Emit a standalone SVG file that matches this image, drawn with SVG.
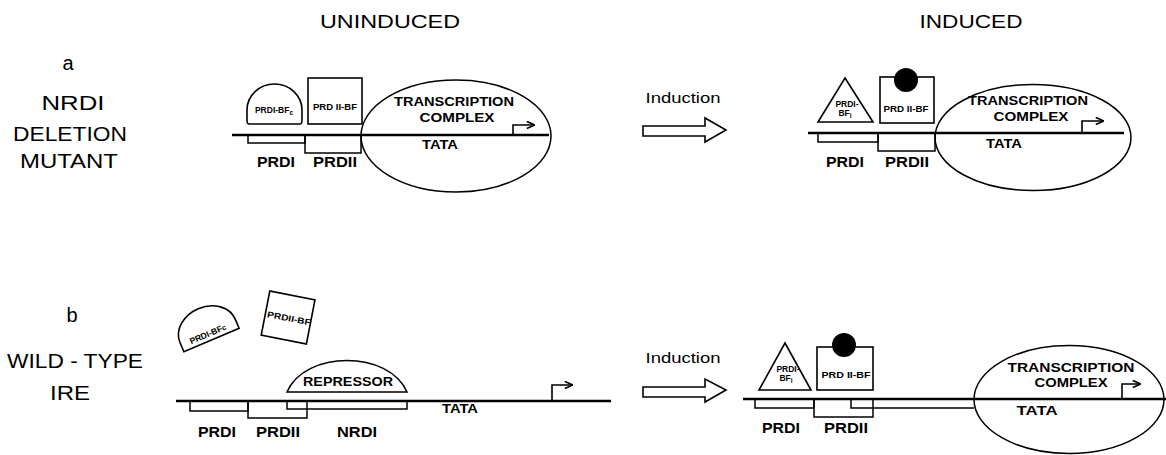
<svg xmlns="http://www.w3.org/2000/svg" width="1166" height="455" viewBox="0 0 1166 455">
<style>
text{font-family:"Liberation Sans",Arial,sans-serif;fill:#000}
.title{font-size:19px;text-anchor:middle}
.side{font-size:20px;text-anchor:middle}
.ind{font-size:15px;text-anchor:middle}
.lbl{font-size:14px;font-weight:bold;text-anchor:middle}
.cx{font-size:13px;font-weight:bold;text-anchor:middle}
.sm{font-size:8.5px;font-weight:bold;text-anchor:middle}
.dna{stroke:#000;stroke-width:2.6;fill:none}
.sh{stroke:#000;stroke-width:1.6;fill:#fff}
.bx{stroke:#000;stroke-width:1.5;fill:none}
.ar{stroke:#000;stroke-width:1.6;fill:none}
</style>
<defs>
<marker id="ah" viewBox="0 0 10 10" refX="9" refY="5" markerWidth="9" markerHeight="9" orient="auto" markerUnits="userSpaceOnUse"><path d="M1,1 L10,5 L1,9" fill="none" stroke="#000" stroke-width="1.8"/></marker>
</defs>

<g id="headings">
<text class="title" x="390" y="28" textLength="140" lengthAdjust="spacingAndGlyphs">UNINDUCED</text>
<text class="title" x="971" y="28" textLength="103" lengthAdjust="spacingAndGlyphs">INDUCED</text>
</g>

<g id="label-a">
<text class="side" x="68" y="70">a</text>
<text class="side" x="73" y="110" textLength="63" lengthAdjust="spacingAndGlyphs">NRDI</text>
<text class="side" x="70" y="141" textLength="114" lengthAdjust="spacingAndGlyphs">DELETION</text>
<text class="side" x="69" y="168" textLength="98" lengthAdjust="spacingAndGlyphs">MUTANT</text>
</g>
<g id="label-b">
<text class="side" x="72" y="322">b</text>
<text class="side" x="75" y="368" textLength="136" lengthAdjust="spacingAndGlyphs">WILD - TYPE</text>
<text class="side" x="70" y="400" textLength="40" lengthAdjust="spacingAndGlyphs">IRE</text>
</g>

<!-- connectors: induction arrows and DNA lines -->
<g id="connectors">
<path class="sh" d="M643,126 L705,126 L705,118 L726,130 L705,142 L705,136 L643,136 Z"/>
<path class="sh" d="M643,387 L705,387 L705,379 L726,390 L705,402 L705,397 L643,397 Z"/>
<line class="dna" x1="232" y1="135" x2="549" y2="135"/>
<line class="dna" x1="808" y1="133" x2="1124" y2="133"/>
<line class="dna" x1="176" y1="401" x2="611" y2="401"/>
<line class="dna" x1="743" y1="399" x2="1166" y2="399"/>
</g>

<g id="induction-a"><text class="ind" x="683" y="103" textLength="75" lengthAdjust="spacingAndGlyphs">Induction</text></g>
<g id="induction-b"><text class="ind" x="683" y="363" textLength="75" lengthAdjust="spacingAndGlyphs">Induction</text></g>

<!-- a: uninduced -->
<g id="a-un-sites">
<rect class="bx" x="248" y="135" width="57" height="8"/>
<rect class="bx" x="305" y="135" width="56" height="18"/>
<text class="lbl" x="276" y="167" textLength="38" lengthAdjust="spacingAndGlyphs">PRDI</text>
<text class="lbl" x="335" y="167" textLength="44" lengthAdjust="spacingAndGlyphs">PRDII</text>
</g>
<g id="a-un-prdi-bfc">
<path class="sh" d="M249,124 Q247,124 247,120 L247,110 A27.5,26 0 0 1 302,110 L302,120 Q302,124 300,124 Z"/>
<text class="sm" x="274" y="113">PRDI-BF<tspan font-size="6.5" dy="2">c</tspan></text>
</g>
<g id="a-un-prdii-bf">
<rect class="sh" x="308" y="78" width="54" height="46"/>
<text class="sm" x="335" y="110" textLength="44" lengthAdjust="spacingAndGlyphs">PRD II-BF</text>
</g>
<g id="a-un-complex">
<ellipse class="bx" cx="456" cy="136" rx="95" ry="56"/>
<text class="cx" x="454" y="106" textLength="120" lengthAdjust="spacingAndGlyphs">TRANSCRIPTION</text>
<text class="cx" x="457" y="122" textLength="75" lengthAdjust="spacingAndGlyphs">COMPLEX</text>
<text class="cx" x="440" y="149" textLength="36" lengthAdjust="spacingAndGlyphs">TATA</text>
<path class="ar" d="M513,134 L513,125 L534,125" marker-end="url(#ah)"/>
</g>

<!-- a: induced -->
<g id="a-in-sites">
<rect class="bx" x="818" y="133" width="60" height="9"/>
<rect class="bx" x="878" y="133" width="57" height="18"/>
<text class="lbl" x="845" y="167" textLength="38" lengthAdjust="spacingAndGlyphs">PRDI</text>
<text class="lbl" x="907" y="167" textLength="44" lengthAdjust="spacingAndGlyphs">PRDII</text>
</g>
<g id="a-in-prdi-bfi">
<path class="sh" d="M845,78 L873,122 L818,122 Z"/>
<text class="sm" x="847" y="107">PRDI-</text>
<text class="sm" x="845" y="116">BF<tspan font-size="6.5" dy="2">i</tspan></text>
</g>
<g id="a-in-prdii-bf">
<rect class="sh" x="880" y="77" width="54" height="46"/>
<circle cx="906" cy="80" r="12" fill="#000"/>
<text class="sm" x="906" y="112" textLength="45" lengthAdjust="spacingAndGlyphs">PRD II-BF</text>
</g>
<g id="a-in-complex">
<ellipse class="bx" cx="1033" cy="137.5" rx="98" ry="53"/>
<text class="cx" x="1028" y="105" textLength="120" lengthAdjust="spacingAndGlyphs">TRANSCRIPTION</text>
<text class="cx" x="1031" y="121" textLength="75" lengthAdjust="spacingAndGlyphs">COMPLEX</text>
<text class="cx" x="1004" y="148" textLength="36" lengthAdjust="spacingAndGlyphs">TATA</text>
<path class="ar" d="M1082,132 L1082,121 L1103,121" marker-end="url(#ah)"/>
</g>

<!-- b: uninduced -->
<g id="b-un-sites">
<rect class="bx" x="190" y="401" width="58" height="10"/>
<rect class="bx" x="248" y="401" width="59" height="17"/>
<rect class="bx" x="287" y="401" width="120" height="8"/>
<text class="lbl" x="217" y="437" textLength="38" lengthAdjust="spacingAndGlyphs">PRDI</text>
<text class="lbl" x="278" y="437" textLength="44" lengthAdjust="spacingAndGlyphs">PRDII</text>
<text class="lbl" x="357" y="437" textLength="40" lengthAdjust="spacingAndGlyphs">NRDI</text>
<text class="cx" x="460" y="413" textLength="36" lengthAdjust="spacingAndGlyphs">TATA</text>
<path class="ar" d="M552,400 L552,385 L572,385" marker-end="url(#ah)"/>
</g>
<g id="b-un-prdi-bfc" transform="translate(211.5,340) rotate(-23)">
<path class="sh" d="M-30,0 L-30,-10 A30,24 0 0 1 30,-10 L30,0 Z"/>
<text class="sm" x="-1" y="-4">PRDI-BF<tspan font-size="7.5">c</tspan></text>
</g>
<g id="b-un-prdii-bf" transform="translate(288,318) rotate(11)">
<rect class="sh" x="-23" y="-23" width="46" height="45"/>
<text class="sm" x="1" y="3" textLength="44" lengthAdjust="spacingAndGlyphs">PRDII-BF</text>
</g>
<g id="b-un-repressor">
<path class="sh" d="M287,392 C305,350 389,350 407,392 Z"/>
<text class="cx" x="348" y="386" textLength="90" lengthAdjust="spacingAndGlyphs">REPRESSOR</text>
</g>

<!-- b: induced -->
<g id="b-in-sites">
<rect class="bx" x="755" y="399" width="59" height="9"/>
<rect class="bx" x="814" y="399" width="59" height="18"/>
<path class="bx" d="M974,408 L851,408 L851,399"/>
<text class="lbl" x="781" y="433" textLength="38" lengthAdjust="spacingAndGlyphs">PRDI</text>
<text class="lbl" x="846" y="433" textLength="44" lengthAdjust="spacingAndGlyphs">PRDII</text>
</g>
<g id="b-in-prdi-bfi">
<path class="sh" d="M785,343 L811,390 L759,390 Z"/>
<text class="sm" x="788" y="372">PRDI-</text>
<text class="sm" x="786" y="381">BF<tspan font-size="6.5" dy="2">i</tspan></text>
</g>
<g id="b-in-prdii-bf">
<rect class="sh" x="817" y="347" width="56" height="43"/>
<circle cx="844" cy="345" r="12" fill="#000"/>
<text class="sm" x="846" y="378" textLength="49" lengthAdjust="spacingAndGlyphs">PRD II-BF</text>
</g>
<g id="b-in-complex">
<ellipse class="bx" cx="1069" cy="399.5" rx="95" ry="54"/>
<text class="cx" x="1071" y="372" textLength="127" lengthAdjust="spacingAndGlyphs">TRANSCRIPTION</text>
<text class="cx" x="1071" y="387" textLength="73" lengthAdjust="spacingAndGlyphs">COMPLEX</text>
<text class="cx" x="1037" y="415" textLength="41" lengthAdjust="spacingAndGlyphs">TATA</text>
<path class="ar" d="M1122,398 L1122,384 L1140,384" marker-end="url(#ah)"/>
</g>
</svg>
